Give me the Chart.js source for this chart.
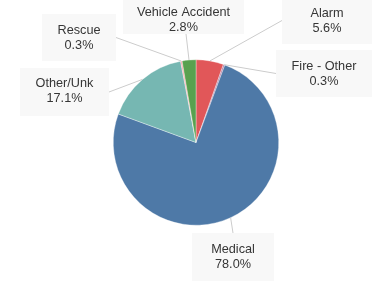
<!DOCTYPE html>
<html>
<head>
<meta charset="utf-8">
<script src="https://cdn.jsdelivr.net/npm/chart.js@4"></script>
<style>
  html, body { margin: 0; padding: 0; background: #fff; }
  #wrap { width: 372px; height: 288px; position: relative; }
</style>
</head>
<body>
<div id="wrap"><canvas id="c" width="372" height="288"></canvas></div>
<script>
const categories = ['Alarm', 'Fire - Other', 'Medical', 'Other/Unk', 'Rescue', 'Vehicle Accident'];
const percentValues = [5.6, 0.3, 78.0, 17.1, 0.3, 2.8];
const sliceColors = ['#E15759', '#B07AA1', '#4E79A7', '#76B7B2', '#FF9DA7', '#59A14F'];

// Label box layout (positions only): rect [x1, y1, x2, y2], text centre y, anchor side
const labelBoxes = [
  { r: [282, -3, 380, 44], ty: 20.5, side: 'left' },
  { r: [276, 50, 380, 97], ty: 73.5, side: 'left' },
  { r: [192, 233, 274, 281], ty: 257, side: 'top' },
  { r: [20, 68, 109, 116], ty: 91, side: 'right' },
  { r: [42, 14, 116, 61], ty: 37.5, side: 'right' },
  { r: [123, -10, 244, 34], ty: 19.5, side: 'bottom' }
];

const calloutPlugin = {
  id: 'callouts',
  afterDatasetsDraw(chart) {
    const ctx = chart.ctx;
    const meta = chart.getDatasetMeta(0);
    ctx.save();
    meta.data.forEach((arc, i) => {
      const p = arc.getProps(['x', 'y', 'startAngle', 'endAngle', 'outerRadius'], true);
      const mid = (p.startAngle + p.endAngle) / 2;
      const ex = p.x + Math.cos(mid) * p.outerRadius;
      const ey = p.y + Math.sin(mid) * p.outerRadius;
      const b = labelBoxes[i];
      const [x1, y1, x2, y2] = b.r;
      let ax, ay;
      if (b.side === 'left') { ax = x1; ay = (y1 + y2) / 2; }
      else if (b.side === 'right') { ax = x2; ay = (y1 + y2) / 2; }
      else if (b.side === 'top') { ax = (x1 + x2) / 2; ay = y1; }
      else { ax = ex - 3; ay = y2; }
      ctx.strokeStyle = '#cccccc';
      ctx.lineWidth = 1;
      ctx.beginPath();
      ctx.moveTo(ex, ey);
      ctx.lineTo(ax, ay);
      ctx.stroke();
    });
    meta.data.forEach((arc, i) => {
      const b = labelBoxes[i];
      const [x1, y1, x2, y2] = b.r;
      ctx.fillStyle = '#f8f8f8';
      ctx.fillRect(x1, y1, x2 - x1, y2 - y1);
      const cx = (x1 + Math.min(x2, 372)) / 2;
      ctx.fillStyle = '#363636';
      ctx.font = '12.7px "Liberation Sans", Arial, sans-serif';
      ctx.textAlign = 'center';
      ctx.textBaseline = 'middle';
      ctx.fillText(categories[i], cx, b.ty - 7.5);
      ctx.fillText(percentValues[i].toFixed(1) + '%', cx, b.ty + 7.5);
    });
    ctx.restore();
  }
};

new Chart(document.getElementById('c'), {
  type: 'pie',
  data: {
    labels: categories,
    datasets: [{
      data: percentValues,
      backgroundColor: sliceColors,
      borderColor: 'rgba(255,255,255,0.7)',
      borderWidth: 0.5
    }]
  },
  options: {
    responsive: false,
    animation: false,
    layout: { padding: { top: 59, bottom: 62, left: 113, right: 93 } },
    plugins: {
      legend: { display: false },
      tooltip: { enabled: false }
    }
  },
  plugins: [calloutPlugin]
});
</script>
</body>
</html>
